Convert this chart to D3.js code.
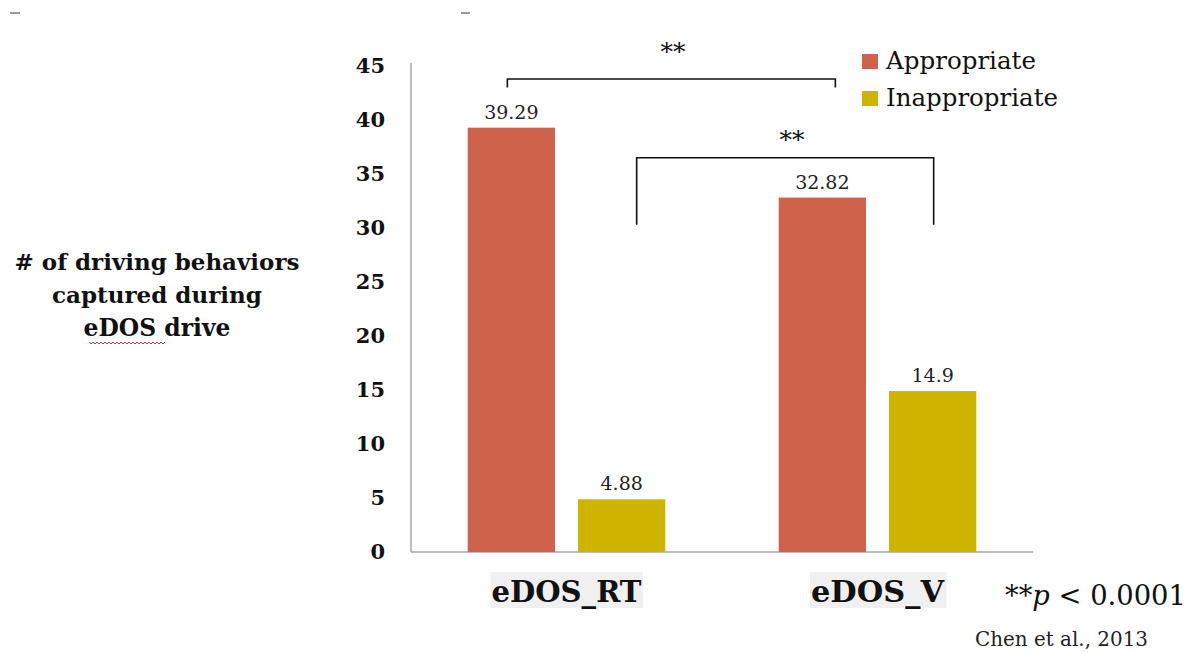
<!DOCTYPE html>
<html>
<head>
<meta charset="utf-8">
<script src="https://cdn.jsdelivr.net/npm/d3@7/dist/d3.min.js"></script>
<style>
  html, body { margin: 0; padding: 0; background: #fff; }
  svg { display: block; }
</style>
</head>
<body>
<svg id="chart" width="1188" height="652"></svg>
<script>
// ---- data ----
const categories = ["eDOS_RT", "eDOS_V"];
const seriesNames = ["Appropriate", "Inappropriate"];
const appropriateValues = [39.29, 32.82];
const inappropriateValues = [4.88, 14.9];
const valueLabels = [["39.29", "4.88"], ["32.82", "14.9"]];
const yTicks = [0, 5, 10, 15, 20, 25, 30, 35, 40, 45];
const yTitleLines = ["# of driving behaviors", "captured during", "eDOS drive"];
const colors = ["#CF624A", "#CCB400"];

const svg = d3.select("#chart");
const serif = "'DejaVu Serif', 'Liberation Serif', serif";

// scale a text's font size so that its rendered width matches a target
function fit(sel, target) {
  const base = 20;
  sel.attr("font-size", base);
  const w = sel.node().getComputedTextLength();
  sel.attr("font-size", (base * target / w).toFixed(2));
  return sel;
}

const plotLeft = 411, plotRight = 1033, plotTop = 66, plotBottom = 552;

const y = d3.scaleLinear().domain([0, 45]).range([plotBottom, plotTop]);
const x0 = d3.scaleBand().domain(categories).range([plotLeft, plotRight]).padding(0);
const x1 = d3.scaleBand().domain(seriesNames).range([0, x0.bandwidth()])
  .paddingInner(0.209).paddingOuter(0.514);

const rows = categories.map((c, i) => ({
  cat: c,
  vals: [
    { s: seriesNames[0], v: appropriateValues[i], label: valueLabels[i][0] },
    { s: seriesNames[1], v: inappropriateValues[i], label: valueLabels[i][1] }
  ]
}));

// y axis (line + labels, no tick marks)
const yAxis = d3.axisLeft(y).tickValues(yTicks).tickSize(0).tickPadding(26);
const yg = svg.append("g").attr("transform", `translate(${plotLeft},0)`).call(yAxis);
yg.select(".domain").attr("stroke", "#a6a6a6").attr("stroke-width", 1.5)
  .attr("d", `M0,${plotTop - 3}V${plotBottom}`);
yg.selectAll("text").attr("font-family", serif).attr("font-weight", "bold")
  .attr("font-size", 21).attr("fill", "#111");

// baseline
svg.append("line").attr("x1", plotLeft).attr("x2", plotRight)
  .attr("y1", y(0)).attr("y2", y(0)).attr("stroke", "#a6a6a6").attr("stroke-width", 1.5);

// bars
const groups = svg.append("g").selectAll("g").data(rows).join("g")
  .attr("transform", d => `translate(${x0(d.cat)},0)`);
groups.selectAll("rect").data(d => d.vals).join("rect")
  .attr("x", d => x1(d.s)).attr("width", x1.bandwidth())
  .attr("y", d => y(d.v)).attr("height", d => y(0) - y(d.v))
  .attr("fill", (d, i) => colors[i]);
groups.selectAll("text.val").data(d => d.vals).join("text").attr("class", "val")
  .attr("x", d => x1(d.s) + x1.bandwidth() / 2).attr("y", d => y(d.v) - 9)
  .attr("text-anchor", "middle").attr("font-family", serif).attr("font-size", 19)
  .attr("fill", "#222").text(d => d.label);

// x category labels with light highlight
const xl = svg.append("g");
categories.forEach(c => {
  const cx = x0(c) + x1("Appropriate") + (x1("Inappropriate") + x1.bandwidth() - x1("Appropriate")) / 2;
  const lg = xl.append("g");
  const bg = lg.append("rect").attr("fill", "#f0f0f0");
  const t = lg.append("text").attr("x", cx).attr("y", 602).attr("text-anchor", "middle")
    .attr("font-family", serif).attr("font-weight", "bold")
    .attr("fill", "#111").text(c);
  fit(t, c === "eDOS_RT" ? 150 : 133);
  const bb = t.node().getBBox();
  bg.attr("x", bb.x - 1).attr("y", 572).attr("width", bb.width + 2).attr("height", 36);
});

// significance brackets
const bx = (cat, s) => x0(cat) + x1(s) + x1.bandwidth() / 2;
const brackets = [
  { x1: bx("eDOS_RT", "Appropriate") - 4, x2: bx("eDOS_V", "Appropriate") + 13, top: 43.8, drop: 43.0, label: "**", lx: 673, ly: 60 },
  { x1: bx("eDOS_RT", "Inappropriate") + 15, x2: bx("eDOS_V", "Inappropriate") + 1, top: 36.5, drop: 30.3, label: "**", lx: 792, ly: 148 }
];
brackets.forEach(b => {
  svg.append("path")
    .attr("d", `M${b.x1},${y(b.drop)}V${y(b.top)}H${b.x2}V${y(b.drop)}`)
    .attr("fill", "none").attr("stroke", "#111").attr("stroke-width", 1.6);
  svg.append("text").attr("x", b.lx).attr("y", b.ly).attr("text-anchor", "middle")
    .attr("font-family", serif).attr("font-size", 25).attr("fill", "#111").text(b.label);
});

// legend
seriesNames.forEach((s, i) => {
  const ly = 54 + i * 37;
  svg.append("rect").attr("x", 862).attr("y", ly).attr("width", 16).attr("height", 15)
    .attr("fill", colors[i]);
  const t = svg.append("text").attr("x", 886).attr("y", ly + 15).attr("font-family", serif)
    .attr("fill", "#111").text(s);
  fit(t, i === 0 ? 150 : 172);
});

// y title
const titleWidths = [285, 210, 147];
yTitleLines.forEach((l, i) => {
  const t = svg.append("text").attr("x", 157).attr("y", 270 + i * 33).attr("text-anchor", "middle")
    .attr("font-family", serif).attr("font-weight", "bold")
    .attr("fill", "#111").text(l);
  fit(t, titleWidths[i]);
});
// spell-check squiggle under "eDOS"
(function () {
  let d = "M89,342";
  for (let xx = 89; xx < 163; xx += 4) d += `L${xx + 2},${344}L${xx + 4},${342}`;
  svg.append("path").attr("d", d).attr("fill", "none").attr("stroke", "#e03030").attr("stroke-width", 1);
})();

// p-value note
const pt = svg.append("text").attr("x", 1005).attr("y", 605).attr("font-family", serif)
  .attr("fill", "#111");
pt.append("tspan").text("**");
pt.append("tspan").attr("font-style", "italic").text("p");
pt.append("tspan").text(" < 0.0001");
fit(pt, 181);

// citation
const ct = svg.append("text").attr("x", 975).attr("y", 646).attr("font-family", serif)
  .attr("fill", "#222").text("Chen et al., 2013");
fit(ct, 173);

// top edge artifacts
svg.append("line").attr("x1", 10).attr("x2", 20).attr("y1", 13).attr("y2", 13).attr("stroke", "#999").attr("stroke-width", 2);
svg.append("line").attr("x1", 461).attr("x2", 470).attr("y1", 13).attr("y2", 13).attr("stroke", "#999").attr("stroke-width", 2);
</script>
</body>
</html>
